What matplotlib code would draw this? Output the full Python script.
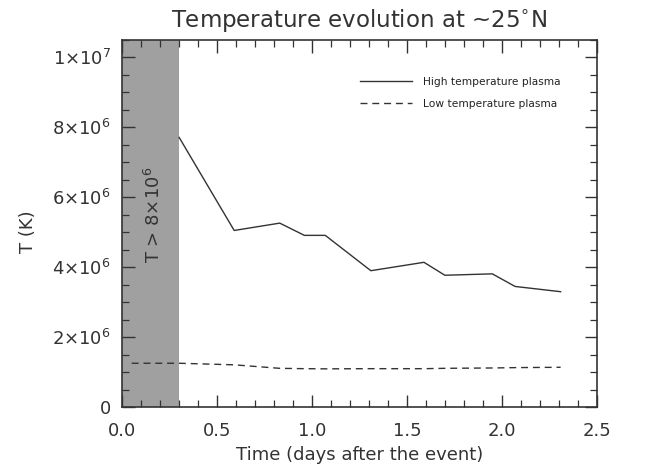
import numpy as np
import matplotlib
matplotlib.use("Agg")
import matplotlib.pyplot as plt
from matplotlib.ticker import MultipleLocator, FixedLocator, FixedFormatter

# time (days after the event) and temperatures (K)
t_high = [0.30, 0.59, 0.83, 0.96, 1.07, 1.31, 1.59, 1.70, 1.95, 2.07, 2.31]
T_high = [7.71e6, 5.05e6, 5.26e6, 4.91e6, 4.91e6, 3.90e6, 4.14e6, 3.77e6, 3.81e6, 3.45e6, 3.30e6]

t_low = [0.05, 0.30, 0.59, 0.83, 0.96, 1.07, 1.31, 1.59, 1.70, 1.95, 2.07, 2.31]
T_low = [1.255e6, 1.255e6, 1.21e6, 1.11e6, 1.10e6, 1.095e6, 1.10e6, 1.10e6, 1.11e6, 1.12e6, 1.13e6, 1.14e6]

shade_end = 0.3
y_ticks = [0, 2e6, 4e6, 6e6, 8e6, 1e7]
y_labels = ["0", r"$2{\times}10^{6}$", r"$4{\times}10^{6}$", r"$6{\times}10^{6}$",
            r"$8{\times}10^{6}$", r"$1{\times}10^{7}$"]

ink = "#333333"
plt.rcParams["font.family"] = "DejaVu Sans"
plt.rcParams["mathtext.fontset"] = "dejavusans"

fig = plt.figure(figsize=(6.5, 4.68), dpi=100)
ax = fig.add_axes([0.188, 0.130, 0.730, 0.785])

ax.axvspan(0, shade_end, color="#a0a0a0", lw=0, zorder=0)
ax.plot(t_high, T_high, color=ink, lw=1.0, label="High temperature plasma")
ax.plot(t_low, T_low, color=ink, lw=1.0, ls=(0, (5, 3.5)), label="Low temperature plasma")

# label inside the shaded band
ax.text(0.165, 5.5e6, r"T > 8${\times}$10$^{6}$", rotation=90, ha="center", va="center",
        fontsize=13, color=ink)

ax.set_xlim(0, 2.5)
ax.set_ylim(0, 1.05e7)
ax.xaxis.set_major_locator(MultipleLocator(0.5))
ax.xaxis.set_minor_locator(MultipleLocator(0.1))
ax.xaxis.set_major_formatter(plt.FormatStrFormatter("%.1f"))
ax.yaxis.set_major_locator(FixedLocator(y_ticks))
ax.yaxis.set_major_formatter(FixedFormatter(y_labels))
ax.yaxis.set_minor_locator(MultipleLocator(5e5))

ax.tick_params(which="both", direction="in", top=True, right=True, colors=ink, labelsize=13)
ax.tick_params(which="major", length=9, width=1.0, pad=8)
ax.tick_params(axis="x", which="major", pad=11)
ax.tick_params(which="minor", length=5, width=0.9)
for s in ax.spines.values():
    s.set_color(ink)
    s.set_linewidth(1.2)

ax.set_xlabel("Time (days after the event)", fontsize=13, color=ink, labelpad=4)
fig.text(0.043, 0.505, "T (K)", rotation=90, ha="center", va="center", fontsize=13, color=ink)
ax.set_title(r"Temperature evolution at ~25$^{\circ}$N", fontsize=16.5, color=ink, pad=9)

leg = ax.legend(loc="upper right", frameon=False, fontsize=7.7, handlelength=4.8,
                bbox_to_anchor=(0.945, 0.925), labelspacing=1.1, handletextpad=1.1)
for txt in leg.get_texts():
    txt.set_color("#222222")

fig.savefig("out.png", dpi=100)
